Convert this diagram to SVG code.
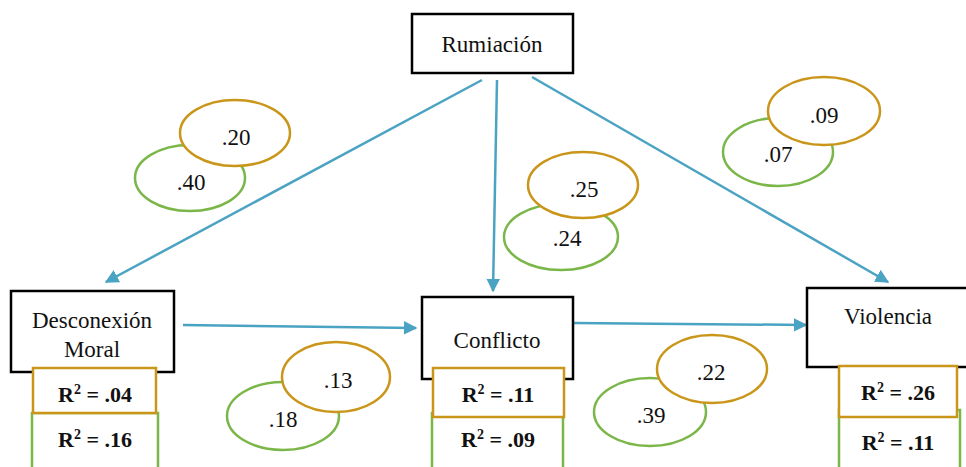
<svg xmlns="http://www.w3.org/2000/svg" width="966" height="467" viewBox="0 0 966 467" font-family="Liberation Serif, Times New Roman, serif">
<style>
.box{fill:#fff;stroke:#000;stroke-width:2.5}
.g{fill:#fff;stroke:#7ab648;stroke-width:2.5}
.y{fill:#fff;stroke:#c9961a;stroke-width:2.5}
.t{font-size:23px;fill:#111;text-anchor:middle}
.r{font-size:22px;font-weight:bold;fill:#111;text-anchor:middle}
.c{stroke:#4ba3c3;stroke-width:2.5;fill:none;marker-end:url(#ah)}
</style>
<defs>
<marker id="ah" viewBox="0 0 10 10" refX="9" refY="5" markerWidth="5.5" markerHeight="5.5" orient="auto" markerUnits="strokeWidth">
<path d="M0,0 L10,5 L0,10 z" fill="#4ba3c3"/>
</marker>
</defs>
<g id="connectors">
<line class="c" x1="482" y1="80" x2="106" y2="282"/>
<line class="c" x1="497" y1="80" x2="493" y2="291"/>
<line class="c" x1="532" y1="77" x2="888" y2="282"/>
<line class="c" x1="183" y1="325" x2="416" y2="328"/>
<line class="c" x1="573" y1="323" x2="806" y2="325"/>
</g>
<g id="rumiacion" font-family="Liberation Serif, serif">
<rect class="box" x="412" y="14" width="161" height="59"/>
<text class="t" x="492" y="52">Rumiación</text>
</g>
<g id="desconexion" font-family="Liberation Serif, serif">
<rect class="box" x="11" y="291" width="163" height="81"/>
<text class="t" x="92" y="328">Desconexión</text>
<text class="t" x="92" y="357">Moral</text>
<rect class="g" x="32" y="413" width="126" height="60"/>
<rect class="y" x="33" y="368" width="123" height="45"/>
<text class="r" x="95" y="402">R<tspan font-size="14" dy="-8">2</tspan><tspan dy="8"> = .04</tspan></text>
<text class="r" x="95" y="447">R<tspan font-size="14" dy="-8">2</tspan><tspan dy="8"> = .16</tspan></text>
</g>
<g id="conflicto" font-family="Liberation Serif, serif">
<rect class="box" x="422" y="297" width="151" height="82"/>
<text class="t" x="497" y="348">Conflicto</text>
<rect class="g" x="432" y="413" width="131" height="60"/>
<rect class="y" x="433" y="368" width="131" height="49"/>
<text class="r" x="498" y="402">R<tspan font-size="14" dy="-8">2</tspan><tspan dy="8"> = .11</tspan></text>
<text class="r" x="498" y="447">R<tspan font-size="14" dy="-8">2</tspan><tspan dy="8"> = .09</tspan></text>
</g>
<g id="violencia" font-family="Liberation Serif, serif">
<rect class="box" x="807" y="288" width="165" height="79"/>
<text class="t" x="888" y="324">Violencia</text>
<rect class="g" x="839" y="410" width="121" height="63"/>
<rect class="y" x="839" y="366" width="118" height="51"/>
<text class="r" x="898" y="400">R<tspan font-size="14" dy="-8">2</tspan><tspan dy="8"> = .26</tspan></text>
<text class="r" x="898" y="450">R<tspan font-size="14" dy="-8">2</tspan><tspan dy="8"> = .11</tspan></text>
</g>
<g id="pair1" font-family="Liberation Serif, serif">
<ellipse class="g" cx="190" cy="178" rx="55" ry="33"/>
<ellipse class="y" cx="235" cy="133" rx="55" ry="33"/>
<text class="t" x="191" y="190">.40</text>
<text class="t" x="236" y="145">.20</text>
</g>
<g id="pair2" font-family="Liberation Serif, serif">
<ellipse class="g" cx="561" cy="237" rx="57" ry="33"/>
<ellipse class="y" cx="583" cy="185" rx="55" ry="33"/>
<text class="t" x="567" y="246">.24</text>
<text class="t" x="584" y="197">.25</text>
</g>
<g id="pair3" font-family="Liberation Serif, serif">
<ellipse class="g" cx="778" cy="152" rx="55" ry="34"/>
<ellipse class="y" cx="824" cy="111" rx="56" ry="34"/>
<text class="t" x="778" y="162">.07</text>
<text class="t" x="824" y="123">.09</text>
</g>
<g id="pair4" font-family="Liberation Serif, serif">
<ellipse class="g" cx="283" cy="416" rx="56" ry="34"/>
<ellipse class="y" cx="336" cy="377" rx="54" ry="35"/>
<text class="t" x="283" y="427">.18</text>
<text class="t" x="338" y="388">.13</text>
</g>
<g id="pair5" font-family="Liberation Serif, serif">
<ellipse class="g" cx="650" cy="412" rx="56" ry="34"/>
<ellipse class="y" cx="712" cy="369" rx="55" ry="34"/>
<text class="t" x="651" y="423">.39</text>
<text class="t" x="711" y="380">.22</text>
</g>
</svg>
